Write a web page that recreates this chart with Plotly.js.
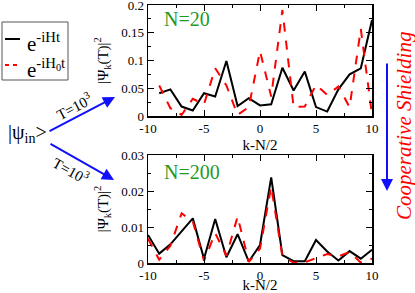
<!DOCTYPE html>
<html><head><meta charset="utf-8">
<script src="https://cdn.plot.ly/plotly-3.0.1.min.js"></script>
<style>html,body{margin:0;padding:0;background:#fff}#chart{width:415px;height:293px}</style>
</head><body><div id="chart"></div>
<script>
// ---- data ----
var k20 = [-9,-8,-7,-6,-5,-4,-3,-2,-1,0,1,2,3,4,5,6,7,8,9,10];
var full20 = [0.041,0.048,0.017,0.010,0.041,0.035,0.099,0.018,0.032,0.019,0.021,0.087,0.046,0.080,0.016,0.008,0.048,0.075,0.086,0.173];
var h0_20  = [0.055,0.014,0.002,0.031,0.021,0.086,0.055,0.002,0.016,0.117,0.035,0.191,0.016,0.017,0.056,0.038,0.053,0.016,0.157,0.002];
var k200 = [-10,-9,-8,-7,-6,-5,-4,-3,-2,-1,0,1,2,3,4,5,6,7,8,9,10];
var full200 = [0.0078,0.0026,0.0052,0.0088,0.0124,0.0012,0.0122,0.0016,0.0080,0.0004,0.0050,0.0238,0.0022,0.0005,0.0005,0.0064,0.0032,0.0007,0.0033,0.0012,0.0037];
var h0_200  = [0.0068,0.0009,0.0048,0.0138,0.0115,0.0006,0.0083,0.0020,0.0129,0.0003,0.0040,0.0212,0.0018,0.0001,0.0002,0.0013,0.0025,0.0018,0.0031,0.0001,0.0012];
var xTickVals = [-10,-5,0,5,10];
var xTickText = ['-10','-5','0','5','10'];
var yTopTicks = [0,0.05,0.1,0.15,0.2];
var yTopText = ['0','0.05','0.1','0.15','0.2'];
var yBotTicks = [0,0.01,0.02,0.03];
var yBotText = ['0','0.01','0.02','0.03'];
var nameFull = 'e<sup>-iHt</sup>';
var nameH0 = 'e<sup>-iH<sub>0</sub>t</sup>';

var W = 415, H = 293;
function px(x){return x/W;}
function py(y){return 1 - y/H;}
var serif = '"Liberation Serif", "Times New Roman", Times, serif';

var traces = [
  {x:k20, y:full20, xaxis:'x', yaxis:'y', mode:'lines', name:nameFull, line:{color:'#000',width:2}},
  {x:k20, y:h0_20, xaxis:'x', yaxis:'y', mode:'lines', name:nameH0, line:{color:'#ff0000',width:2,dash:'dash'}},
  {x:k200, y:full200, xaxis:'x2', yaxis:'y2', mode:'lines', name:nameFull, line:{color:'#000',width:2}},
  {x:k200, y:h0_200, xaxis:'x2', yaxis:'y2', mode:'lines', name:nameH0, line:{color:'#ff0000',width:2,dash:'dash'}}
];

function xax(anchor, dom){
  return {domain:dom, anchor:anchor, range:[-10,10], tickmode:'array', tickvals:xTickVals, ticktext:xTickText,
    ticks:'inside', ticklen:6, tickwidth:1, tickcolor:'#000', showline:true, linecolor:'#000', linewidth:1.5,
    mirror:'allticks', showgrid:false, zeroline:false, ticklabeloverflow:'allow',
    minor:{dtick:2.5, tick0:0, ticks:'inside', ticklen:3, tickcolor:'#000', showgrid:false},
    tickfont:{family:serif, size:13, color:'#000'},
    title:{text:'k-N/2', font:{family:serif, size:15, color:'#000'}, standoff:4}};
}
function yax(anchor, dom, rng, tv, tt, mdt){
  return {domain:dom, anchor:anchor, range:rng, tickmode:'array', tickvals:tv, ticktext:tt,
    ticks:'inside', ticklen:6, tickwidth:1, tickcolor:'#000', showline:true, linecolor:'#000', linewidth:1.5,
    mirror:'allticks', showgrid:false, zeroline:false, ticklabeloverflow:'allow',
    minor:{dtick:mdt, tick0:0, ticks:'inside', ticklen:3, tickcolor:'#000', showgrid:false},
    tickfont:{family:serif, size:13, color:'#000'},
    title:{text:'|Ψ<sub>k</sub>(T)|<sup>2</sup>', font:{family:serif, size:15, color:'#000'}, standoff:9}};
}

var xd = [px(148), px(372)];
var layout = {
  width:W, height:H, margin:{l:0,r:0,t:0,b:0}, showlegend:false,
  paper_bgcolor:'#fff', plot_bgcolor:'#fff',
  font:{family:serif},
  xaxis: xax('y', xd),
  yaxis: yax('x', [py(116), py(5)], [0,0.2], yTopTicks, yTopText, 0.025),
  xaxis2: xax('y2', xd),
  yaxis2: yax('x2', [py(263), py(155)], [0,0.03], yBotTicks, yBotText, 0.005),
  shapes:[
    {type:'rect', xref:'paper', yref:'paper', x0:px(2), x1:px(68), y0:py(80), y1:py(22), line:{color:'#555',width:1}},
    {type:'line', xref:'paper', yref:'paper', x0:px(5), x1:px(20), y0:py(39), y1:py(39), line:{color:'#000',width:2}},
    {type:'line', xref:'paper', yref:'paper', x0:px(5), x1:px(20), y0:py(65), y1:py(65), line:{color:'#ff0000',width:2,dash:'4px,4px'}}
  ],
  annotations:[
    {xref:'paper', yref:'paper', x:px(25), y:py(42), xanchor:'left', yanchor:'middle', showarrow:false,
     text:nameFull, font:{family:serif, size:21, color:'#000'}},
    {xref:'paper', yref:'paper', x:px(25), y:py(68), xanchor:'left', yanchor:'middle', showarrow:false,
     text:nameH0, font:{family:serif, size:21, color:'#000'}},
    {xref:'paper', yref:'paper', x:px(27), y:py(134), xanchor:'center', yanchor:'middle', showarrow:false,
     text:'|ψ<sub>in</sub>&gt;', font:{family:serif, size:20, color:'#000'}},
    {xref:'paper', yref:'paper', x:px(115), y:py(97), ax:-67, ay:35, showarrow:true, arrowhead:2, arrowsize:1.2, arrowwidth:2, arrowcolor:'#1010ff', standoff:0, text:''},
    {xref:'paper', yref:'paper', x:px(114), y:py(180), ax:-65, ay:-37, showarrow:true, arrowhead:2, arrowsize:1.2, arrowwidth:2, arrowcolor:'#1010ff', standoff:0, text:''},
    {xref:'paper', yref:'paper', x:px(74), y:py(106), showarrow:false, textangle:-28, xanchor:'center', yanchor:'middle',
     text:'T=10<sup>3</sup>', font:{family:serif, size:15, color:'#000'}},
    {xref:'paper', yref:'paper', x:px(71), y:py(170), showarrow:false, textangle:29, xanchor:'center', yanchor:'middle',
     text:'T=10<sup>3</sup>', font:{family:serif, size:15, color:'#000'}},
    {xref:'paper', yref:'paper', x:px(387), y:py(191), ax:0, ay:-129, showarrow:true, arrowhead:2, arrowsize:1.2, arrowwidth:2, arrowcolor:'#1010ff', standoff:0, text:''},
    {xref:'paper', yref:'paper', x:px(404), y:py(126), showarrow:false, textangle:-90, xanchor:'center', yanchor:'middle',
     text:'<i>Cooperative Shielding</i>', font:{family:serif, size:21, color:'#ff0000'}},
    {xref:'paper', yref:'paper', x:px(162), y:py(19), showarrow:false, xanchor:'left', yanchor:'middle',
     text:'N=20', font:{family:serif, size:20, color:'#1f9a1f'}},
    {xref:'paper', yref:'paper', x:px(162), y:py(172), showarrow:false, xanchor:'left', yanchor:'middle',
     text:'N=200', font:{family:serif, size:20, color:'#1f9a1f'}}
  ]
};
Plotly.newPlot('chart', traces, layout, {staticPlot:true, displayModeBar:false});
</script></body></html>
